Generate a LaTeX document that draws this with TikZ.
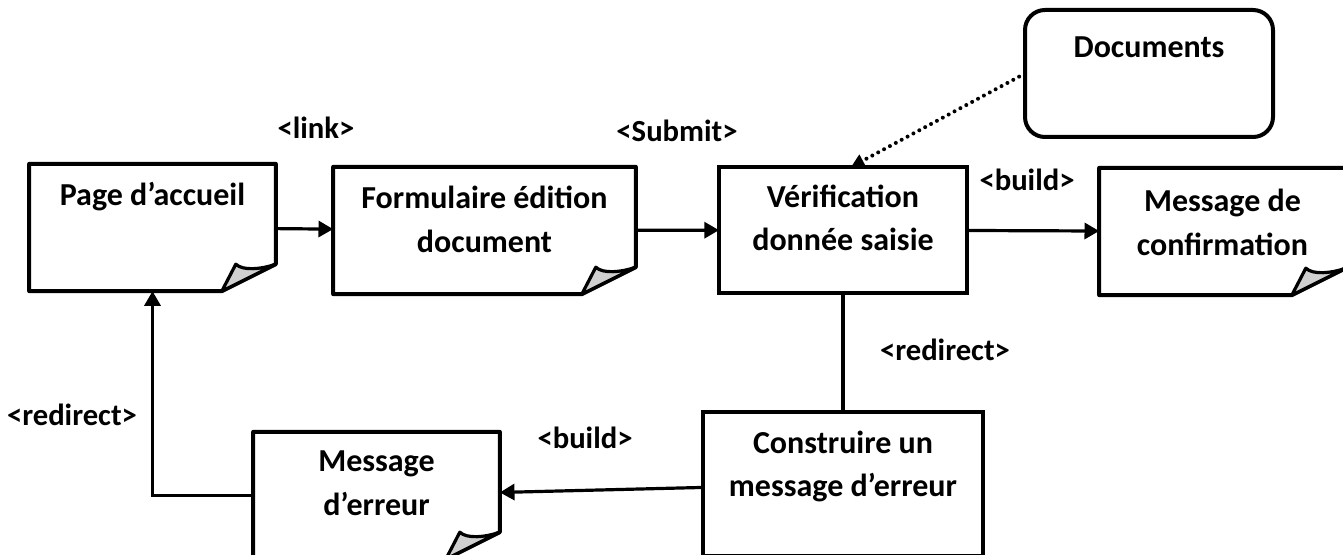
\documentclass[tikz,border=0pt]{standalone}
\usepackage{fontspec}
\setmainfont{Carlito}
\usetikzlibrary{calc}
\usetikzlibrary{arrows.meta}
\usepackage{xcolor}

\definecolor{flapgray}{RGB}{208,208,208}

\tikzset{
  notebox/.style={inner sep=0pt, outer sep=0pt, text width=185pt, text height=31.5pt, text depth=64pt, align=flush center, font=\fontsize{24}{32.5}\selectfont\bfseries},
  plainbox/.style={notebox, draw, line width=3pt},
  tag/.style={inner sep=0.75pt, font=\fontsize{23}{26}\selectfont\bfseries},
  flow/.style={line width=2.4pt, -{Triangle[length=11pt,width=12pt]}},
  dotflow/.style={line width=3pt, line cap=round, dash pattern=on 0pt off 5pt, -{Triangle[length=10pt,width=10pt]}},
}

% page outline with the folded corner, drawn round a named node
\newcommand{\foldnote}[1]{%
  \draw[line width=3pt, line join=round] (#1.north west) -- (#1.north east) -- ($(#1.south east)+(0,-27)$) -- ($(#1.south east)+(-54,0)$) -- (#1.south west) -- cycle;
  \filldraw[fill=flapgray, line width=2.4pt, line join=round] ($(#1.south east)+(-54,0)$) -- ($(#1.south east)+(-40,-27)$) .. controls ($(#1.south east)+(-33,-20)$) and ($(#1.south east)+(-14,-22)$) .. ($(#1.south east)+(0,-27)$) -- cycle;
}

\begin{document}
\begin{tikzpicture}[x=0.75pt,y=0.75pt,yscale=-1,xscale=1]
\useasboundingbox (0,0) rectangle (1343,555);

%Shape: Note [id:page]
\draw (152.5,227.5) node [notebox] (page) {Page d’accueil};
\foldnote{page}
%Shape: Note [id:form]
\draw (484.5,230.5) node [notebox, text width=227pt] (form) {Formulaire édition\\document};
\foldnote{form}
%Shape: Rectangle [id:verif]
\draw (843,230) node [plainbox, text width=186pt, text height=30.5pt, text depth=64pt] (verif) {Vérification\\donnée saisie};
%Shape: Note [id:confirm]
\draw (1222.5,231.5) node [notebox, text height=33pt, text depth=62.5pt] (confirm) {Message de\\confirmation};
\foldnote{confirm}
%Shape: Rounded Rect [id:docs]
\draw (1149,73.5) node [plainbox, rounded corners=15pt, text width=186pt, text height=36pt, text depth=59.25pt] (docs) {Documents};
%Shape: Rectangle [id:build]
\draw (843,484) node [plainbox, text width=210pt, text height=31pt, text depth=77pt] (build) {Construire un\\message d’erreur};
%Shape: Note [id:error]
\draw (376.5,495.5) node [notebox, text height=30pt, text depth=65.5pt] (error) {Message\\d’erreur};
\foldnote{error}

%Straight Lines
\draw [flow] (page) -- (form);
\draw [flow] (form) -- (verif);
\draw [flow] (verif) -- (confirm);
\draw [line width=2.4pt] (verif.south) -- (build.north);
\draw [flow] (build) -- (error);
\draw [flow] (error.west) -| (page.south);
\draw [dotflow] (docs.west) -- ([xshift=6pt]verif.north);

% Text Node
\draw (316,128) node [tag] (linktag) {<link>};
% Text Node
\draw (677,131) node [tag] (submittag) {<Submit>};
% Text Node
\draw (1027,180) node [tag] (buildtag) {<build>};
% Text Node
\draw (945,350) node [tag] (redirtag) {<redirect>};
% Text Node
\draw (72,415) node [tag] (backtag) {<redirect>};
% Text Node
\draw (585,438) node [tag] (errtag) {<build>};

\end{tikzpicture}
\end{document}
